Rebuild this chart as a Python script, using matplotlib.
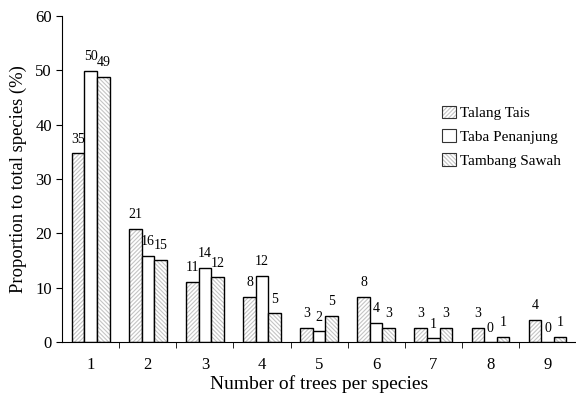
import matplotlib
matplotlib.use("Agg")
import matplotlib.pyplot as plt
from matplotlib.legend_handler import HandlerTuple
from matplotlib.patches import Rectangle
import numpy as np

plt.rcParams['font.family'] = ['Liberation Serif', 'DejaVu Serif']
plt.rcParams['hatch.linewidth'] = 0.8

categories = ['1', '2', '3', '4', '5', '6', '7', '8', '9']
talang_tais = [34.7, 20.8, 11.1, 8.3, 2.7, 8.3, 2.7, 2.7, 4.1]
taba_penanjung = [49.9, 15.9, 13.7, 12.2, 2.0, 3.6, 0.7, 0.0, 0.0]
tambang_sawah = [48.8, 15.1, 11.9, 5.3, 4.8, 2.6, 2.6, 1.0, 1.0]
label_talang = ['35', '21', '11', '8', '3', '8', '3', '3', '4']
label_taba = ['50', '16', '14', '12', '2', '4', '1', '0', '0']
label_tambang = ['49', '15', '12', '5', '5', '3', '3', '1', '1']

fig = plt.figure(figsize=(5.76, 3.97), dpi=100)
ax = fig.add_axes([0.108, 0.138, 0.892, 0.822])

x = np.arange(1, len(categories) + 1)
w = 0.22
hatch_col = '#c4c4c4'
series = [
    (talang_tais, label_talang, 'Talang Tais', '////////'),
    (taba_penanjung, label_taba, 'Taba Penanjung', ''),
    (tambang_sawah, label_tambang, 'Tambang Sawah', '\\\\\\\\\\\\\\\\'),
]
handles, names = [], []
for i, (vals, labs, name, hatch) in enumerate(series):
    pos = x + (i - 1) * w
    ax.bar(pos, vals, width=w, color='white', edgecolor=hatch_col,
           linewidth=0, hatch=hatch)
    bars = ax.bar(pos, vals, width=w, fill=False, edgecolor='black',
                  linewidth=1.0)
    for b, v, lab in zip(bars, vals, labs):
        ax.text(b.get_x() + b.get_width() / 2, v + 1.4, lab,
                ha='center', va='bottom', fontsize=10)
    h1 = Rectangle((0, 0), 1, 1, facecolor='white', edgecolor=hatch_col,
                   linewidth=0, hatch=hatch)
    h2 = Rectangle((0, 0), 1, 1, fill=False, edgecolor='#333333', linewidth=0.8)
    handles.append((h1, h2))
    names.append(name)

ax.set_xlim(0.5, 9.5)
ax.set_ylim(0, 60)
ax.set_yticks(range(0, 61, 10))
ax.set_xticks(x)
ax.set_xticklabels(categories, fontsize=12)
ax.set_xticks(np.arange(1.5, 9.5, 1), minor=True)
ax.tick_params(axis='x', which='major', length=0, pad=11)
ax.tick_params(axis='x', which='minor', length=4, direction='out')
ax.tick_params(axis='y', labelsize=12, length=4, direction='out')
for s in ['top', 'right']:
    ax.spines[s].set_visible(False)
ax.set_xlabel('Number of trees per species', fontsize=14, labelpad=1)
ax.set_ylabel('Proportion to total species (%)', fontsize=13.4, labelpad=6)

ax.legend(handles, names, handler_map={tuple: HandlerTuple(ndivide=1, pad=0)},
          loc='upper left', bbox_to_anchor=(0.712, 0.767), frameon=False,
          fontsize=11, handlelength=0.9, handleheight=0.9,
          handletextpad=0.3, labelspacing=0.6)

fig.savefig('out.png', dpi=100)
